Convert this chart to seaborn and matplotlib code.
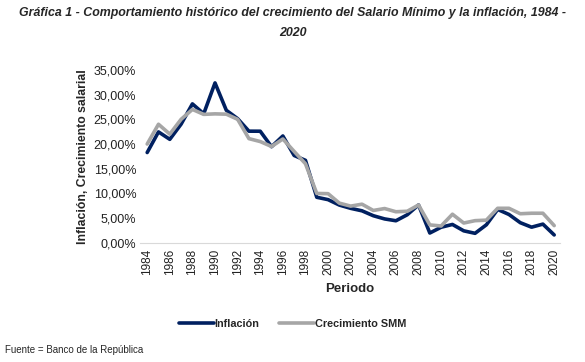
import numpy as np
import pandas as pd
import matplotlib
matplotlib.use("Agg")
import matplotlib.pyplot as plt
import matplotlib.ticker as mticker
import seaborn as sns

years = list(range(1984, 2021))
inflacion = [18.28, 22.45, 20.95, 24.02, 28.12, 26.12, 32.36, 26.82, 25.13, 22.60,
             22.59, 19.46, 21.63, 17.68, 16.70, 9.23, 8.75, 7.65, 6.99, 6.49,
             5.50, 4.85, 4.48, 5.69, 7.67, 2.00, 3.17, 3.73, 2.44, 1.94,
             3.66, 6.77, 5.75, 4.09, 3.18, 3.80, 1.61]
crecimiento_smm = [20.0, 24.0, 22.0, 25.0, 27.0, 26.0, 26.1, 26.04, 25.0, 21.09,
                   20.5, 19.5, 21.02, 18.5, 16.01, 10.0, 9.96, 8.04, 7.44, 7.83,
                   6.56, 6.95, 6.3, 6.4, 7.67, 3.64, 3.42, 5.8, 4.02, 4.5,
                   4.6, 7.0, 7.0, 5.9, 6.0, 6.0, 3.5]
series_names = ["Inflación", "Crecimiento SMM"]
series_colors = {"Inflación": "#002060", "Crecimiento SMM": "#A6A6A6"}

df = pd.DataFrame({"Periodo": years, series_names[0]: inflacion, series_names[1]: crecimiento_smm})
df = df.melt(id_vars="Periodo", var_name="Serie", value_name="Valor")

sns.set_style("white")
plt.rcParams["font.family"] = ["Liberation Sans", "DejaVu Sans"]

fig = plt.figure(figsize=(5.85, 3.62), dpi=100)
ax = fig.add_axes([0.24, 0.329, 0.717, 0.478])

sns.lineplot(data=df, x="Periodo", y="Valor", hue="Serie", hue_order=series_names,
             palette=series_colors, linewidth=2.6, ax=ax, legend=False)

ax.set_xlim(1983.4, 2020.5)
ax.set_ylim(0, 35)
ax.set_xticks(years[::2])
ax.set_xticklabels([str(y) for y in years[::2]], rotation=90, fontsize=8.5, color="#222222")
ax.yaxis.set_major_locator(mticker.MultipleLocator(5))
ax.yaxis.set_major_formatter(mticker.FuncFormatter(lambda v, p: f"{v:.2f}%".replace(".", ",")))
ax.tick_params(axis="y", labelsize=9, length=0, pad=3, colors="#222222")
ax.tick_params(axis="x", length=0, pad=4)

for s in ["top", "right", "left"]:
    ax.spines[s].set_visible(False)
ax.spines["bottom"].set_color("#D9D9D9")

ax.set_xlabel("Periodo", fontsize=9.5, fontweight="bold", labelpad=6)
ax.set_ylabel("Inflación, Crecimiento salarial", fontsize=8.8, fontweight="bold", labelpad=3)

fig.text(0.5, 1 - 13 / 362, "Gráfica 1 - Comportamiento histórico del crecimiento del Salario Mínimo y la inflación, 1984 -",
         ha="center", va="center", fontsize=8.9, fontweight="bold", style="italic")
fig.text(0.5, 1 - 33 / 362, "2020", ha="center", va="center", fontsize=8.9,
         fontweight="bold", style="italic")

handles = [plt.Line2D([], [], color=series_colors[n], linewidth=2.6) for n in series_names]
fig.legend(handles, series_names, loc="center", bbox_to_anchor=(0.5, 1 - 324 / 362),
           ncol=2, frameon=False, handlelength=3.2, handletextpad=0.1, columnspacing=1.8,
           prop={"size": 7.8, "weight": "bold"})

fig.text(0.008, 1 - 350 / 362, "Fuente = Banco de la República", ha="left", va="center", fontsize=7)

fig.savefig("out.png", dpi=100)
